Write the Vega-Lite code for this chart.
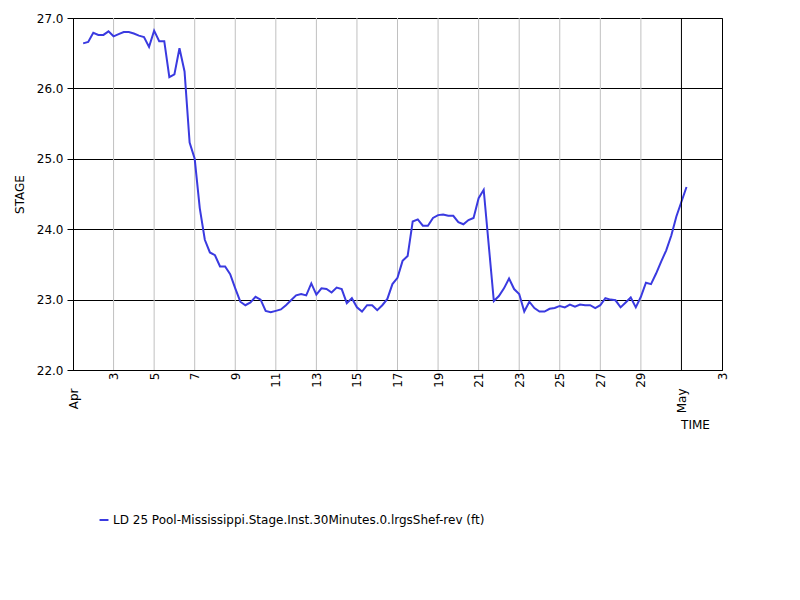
{
  "$schema": "https://vega.github.io/schema/vega-lite/v6.json",
  "width": 649,
  "height": 352,
  "autosize": {"type": "none"},
  "padding": {"left": 73, "top": 18, "right": 78, "bottom": 230},
  "background": "white",
  "config": {
    "font": "DejaVu Sans",
    "view": {"stroke": "black", "strokeWidth": 1},
    "axis": {"labelFont": "DejaVu Sans", "titleFont": "DejaVu Sans", "labelColor": "black", "titleColor": "black", "labelFontSize": 12, "titleFontSize": 12, "titleFontWeight": "normal", "domainColor": "black", "tickColor": "black"},
    "legend": {"labelFont": "DejaVu Sans", "labelFontSize": 12, "labelColor": "black", "labelLimit": 0}
  },
  "datasets": {
    "stage": [
      {"t": "2023-04-01T12:00", "v": 26.64},
      {"t": "2023-04-01T18:00", "v": 26.66},
      {"t": "2023-04-02T00:00", "v": 26.79},
      {"t": "2023-04-02T06:00", "v": 26.76},
      {"t": "2023-04-02T12:00", "v": 26.76},
      {"t": "2023-04-02T18:00", "v": 26.81},
      {"t": "2023-04-03T00:00", "v": 26.74},
      {"t": "2023-04-03T06:00", "v": 26.77},
      {"t": "2023-04-03T12:00", "v": 26.80},
      {"t": "2023-04-03T18:00", "v": 26.80},
      {"t": "2023-04-04T00:00", "v": 26.78},
      {"t": "2023-04-04T06:00", "v": 26.75},
      {"t": "2023-04-04T12:00", "v": 26.73},
      {"t": "2023-04-04T18:00", "v": 26.59},
      {"t": "2023-04-05T00:00", "v": 26.82},
      {"t": "2023-04-05T06:00", "v": 26.67},
      {"t": "2023-04-05T12:00", "v": 26.67},
      {"t": "2023-04-05T18:00", "v": 26.16},
      {"t": "2023-04-06T00:00", "v": 26.20},
      {"t": "2023-04-06T06:00", "v": 26.57},
      {"t": "2023-04-06T12:00", "v": 26.24},
      {"t": "2023-04-06T18:00", "v": 25.23},
      {"t": "2023-04-07T00:00", "v": 25.00},
      {"t": "2023-04-07T06:00", "v": 24.30},
      {"t": "2023-04-07T12:00", "v": 23.85},
      {"t": "2023-04-07T18:00", "v": 23.67},
      {"t": "2023-04-08T00:00", "v": 23.63},
      {"t": "2023-04-08T06:00", "v": 23.47},
      {"t": "2023-04-08T12:00", "v": 23.47},
      {"t": "2023-04-08T18:00", "v": 23.36},
      {"t": "2023-04-09T00:00", "v": 23.16},
      {"t": "2023-04-09T06:00", "v": 22.97},
      {"t": "2023-04-09T12:00", "v": 22.92},
      {"t": "2023-04-09T18:00", "v": 22.96},
      {"t": "2023-04-10T00:00", "v": 23.04},
      {"t": "2023-04-10T06:00", "v": 23.00},
      {"t": "2023-04-10T12:00", "v": 22.84},
      {"t": "2023-04-10T18:00", "v": 22.82},
      {"t": "2023-04-11T00:00", "v": 22.84},
      {"t": "2023-04-11T06:00", "v": 22.86},
      {"t": "2023-04-11T12:00", "v": 22.92},
      {"t": "2023-04-11T18:00", "v": 22.99},
      {"t": "2023-04-12T00:00", "v": 23.06},
      {"t": "2023-04-12T06:00", "v": 23.08},
      {"t": "2023-04-12T12:00", "v": 23.06},
      {"t": "2023-04-12T18:00", "v": 23.23},
      {"t": "2023-04-13T00:00", "v": 23.07},
      {"t": "2023-04-13T06:00", "v": 23.16},
      {"t": "2023-04-13T12:00", "v": 23.15},
      {"t": "2023-04-13T18:00", "v": 23.10},
      {"t": "2023-04-14T00:00", "v": 23.17},
      {"t": "2023-04-14T06:00", "v": 23.15},
      {"t": "2023-04-14T12:00", "v": 22.95},
      {"t": "2023-04-14T18:00", "v": 23.02},
      {"t": "2023-04-15T00:00", "v": 22.89},
      {"t": "2023-04-15T06:00", "v": 22.83},
      {"t": "2023-04-15T12:00", "v": 22.92},
      {"t": "2023-04-15T18:00", "v": 22.92},
      {"t": "2023-04-16T00:00", "v": 22.85},
      {"t": "2023-04-16T06:00", "v": 22.92},
      {"t": "2023-04-16T12:00", "v": 23.01},
      {"t": "2023-04-16T18:00", "v": 23.22},
      {"t": "2023-04-17T00:00", "v": 23.31},
      {"t": "2023-04-17T06:00", "v": 23.55},
      {"t": "2023-04-17T12:00", "v": 23.62},
      {"t": "2023-04-17T18:00", "v": 24.11},
      {"t": "2023-04-18T00:00", "v": 24.14},
      {"t": "2023-04-18T06:00", "v": 24.05},
      {"t": "2023-04-18T12:00", "v": 24.05},
      {"t": "2023-04-18T18:00", "v": 24.16},
      {"t": "2023-04-19T00:00", "v": 24.20},
      {"t": "2023-04-19T06:00", "v": 24.21},
      {"t": "2023-04-19T12:00", "v": 24.19},
      {"t": "2023-04-19T18:00", "v": 24.19},
      {"t": "2023-04-20T00:00", "v": 24.10},
      {"t": "2023-04-20T06:00", "v": 24.07},
      {"t": "2023-04-20T12:00", "v": 24.13},
      {"t": "2023-04-20T18:00", "v": 24.16},
      {"t": "2023-04-21T00:00", "v": 24.44},
      {"t": "2023-04-21T06:00", "v": 24.56},
      {"t": "2023-04-21T18:00", "v": 22.98},
      {"t": "2023-04-22T00:00", "v": 23.05},
      {"t": "2023-04-22T06:00", "v": 23.16},
      {"t": "2023-04-22T12:00", "v": 23.30},
      {"t": "2023-04-22T18:00", "v": 23.15},
      {"t": "2023-04-23T00:00", "v": 23.08},
      {"t": "2023-04-23T06:00", "v": 22.83},
      {"t": "2023-04-23T12:00", "v": 22.97},
      {"t": "2023-04-23T18:00", "v": 22.88},
      {"t": "2023-04-24T00:00", "v": 22.83},
      {"t": "2023-04-24T06:00", "v": 22.83},
      {"t": "2023-04-24T12:00", "v": 22.87},
      {"t": "2023-04-24T18:00", "v": 22.88},
      {"t": "2023-04-25T00:00", "v": 22.91},
      {"t": "2023-04-25T06:00", "v": 22.89},
      {"t": "2023-04-25T12:00", "v": 22.93},
      {"t": "2023-04-25T18:00", "v": 22.90},
      {"t": "2023-04-26T00:00", "v": 22.93},
      {"t": "2023-04-26T06:00", "v": 22.92},
      {"t": "2023-04-26T12:00", "v": 22.92},
      {"t": "2023-04-26T18:00", "v": 22.88},
      {"t": "2023-04-27T00:00", "v": 22.92},
      {"t": "2023-04-27T06:00", "v": 23.02},
      {"t": "2023-04-27T12:00", "v": 23.00},
      {"t": "2023-04-27T18:00", "v": 22.99},
      {"t": "2023-04-28T00:00", "v": 22.89},
      {"t": "2023-04-28T06:00", "v": 22.96},
      {"t": "2023-04-28T12:00", "v": 23.03},
      {"t": "2023-04-28T18:00", "v": 22.89},
      {"t": "2023-04-29T00:00", "v": 23.04},
      {"t": "2023-04-29T06:00", "v": 23.24},
      {"t": "2023-04-29T12:00", "v": 23.22},
      {"t": "2023-04-29T18:00", "v": 23.37},
      {"t": "2023-04-30T00:00", "v": 23.54},
      {"t": "2023-04-30T06:00", "v": 23.70},
      {"t": "2023-04-30T12:00", "v": 23.91},
      {"t": "2023-04-30T18:00", "v": 24.18},
      {"t": "2023-05-01T00:00", "v": 24.39},
      {"t": "2023-05-01T06:00", "v": 24.60}
    ],
    "gridlines": [
      {"t": "2023-04-03T00:00"},
      {"t": "2023-04-05T00:00"},
      {"t": "2023-04-07T00:00"},
      {"t": "2023-04-09T00:00"},
      {"t": "2023-04-11T00:00"},
      {"t": "2023-04-13T00:00"},
      {"t": "2023-04-15T00:00"},
      {"t": "2023-04-17T00:00"},
      {"t": "2023-04-19T00:00"},
      {"t": "2023-04-21T00:00"},
      {"t": "2023-04-23T00:00"},
      {"t": "2023-04-25T00:00"},
      {"t": "2023-04-27T00:00"},
      {"t": "2023-04-29T00:00"}
    ],
    "marker": [{"t": "2023-05-01T00:00"}]
  },
  "layer": [
    {
      "data": {"name": "gridlines"},
      "mark": {"type": "rule", "color": "#c0c0c0", "strokeWidth": 1},
      "encoding": {
        "x": {"field": "t", "type": "temporal", "axis": null}
      }
    },
    {
      "data": {"name": "stage"},
      "mark": {"type": "line", "strokeWidth": 2, "clip": true},
      "encoding": {
        "x": {
          "field": "t", "type": "temporal",
          "scale": {"domain": [{"year": 2023, "month": 4, "date": 1}, {"year": 2023, "month": 5, "date": 3}]},
          "axis": {
            "title": null,
            "orient": "bottom",
            "values": [
              {"year": 2023, "month": 4, "date": 1},
              {"year": 2023, "month": 4, "date": 3},
              {"year": 2023, "month": 4, "date": 5},
              {"year": 2023, "month": 4, "date": 7},
              {"year": 2023, "month": 4, "date": 9},
              {"year": 2023, "month": 4, "date": 11},
              {"year": 2023, "month": 4, "date": 13},
              {"year": 2023, "month": 4, "date": 15},
              {"year": 2023, "month": 4, "date": 17},
              {"year": 2023, "month": 4, "date": 19},
              {"year": 2023, "month": 4, "date": 21},
              {"year": 2023, "month": 4, "date": 23},
              {"year": 2023, "month": 4, "date": 25},
              {"year": 2023, "month": 4, "date": 27},
              {"year": 2023, "month": 4, "date": 29},
              {"year": 2023, "month": 5, "date": 1},
              {"year": 2023, "month": 5, "date": 3}
            ],
            "labelExpr": "date(datum.value) == 1 ? '' : '' + date(datum.value)",
            "labelAngle": 270,
            "labelAlign": "right",
            "labelBaseline": "middle",
            "labelPadding": 2,
            "labelOverlap": false,
            "ticks": false,
            "tickSize": 0,
            "grid": false,
            "domainColor": "black"
          }
        },
        "y": {
          "field": "v", "type": "quantitative",
          "scale": {"domain": [22, 27], "zero": false, "nice": false},
          "axis": {
            "title": "STAGE",
            "values": [22, 23, 24, 25, 26, 27],
            "format": ".1f",
            "grid": true,
            "gridColor": "black",
            "gridWidth": 1,
            "tickSize": 6,
            "labelPadding": 4,
            "titlePadding": 10
          }
        },
        "color": {
          "datum": "LD 25 Pool-Mississippi.Stage.Inst.30Minutes.0.lrgsShef-rev (ft)",
          "type": "nominal",
          "scale": {"range": ["#3a3ae0"]},
          "legend": {
            "title": null,
            "orient": "none",
            "legendX": 25,
            "legendY": 496,
            "symbolType": "stroke",
            "symbolStrokeWidth": 2,
            "symbolSize": 80,
            "labelOffset": 3,
            "labelLimit": 0
          }
        }
      }
    },
    {
      "data": {"name": "marker"},
      "mark": {"type": "rule", "color": "black", "strokeWidth": 1},
      "encoding": {
        "x": {
          "field": "t", "type": "temporal",
          "axis": {
            "orient": "bottom",
            "title": "TIME",
            "values": [{"year": 2023, "month": 4, "date": 1}, {"year": 2023, "month": 5, "date": 1}],
            "labelExpr": "timeFormat(datum.value, '%b')",
            "labelAngle": 270,
            "labelAlign": "right",
            "labelBaseline": "middle",
            "labelPadding": 18,
            "labelOverlap": false,
            "ticks": false,
            "tickSize": 0,
            "domain": false,
            "grid": false,
            "titleX": 622,
            "titleY": 58,
            "titleAlign": "center",
            "titleBaseline": "alphabetic",
            "titleAnchor": null
          }
        }
      }
    }
  ],
  "resolve": {"axis": {"x": "independent"}}
}
